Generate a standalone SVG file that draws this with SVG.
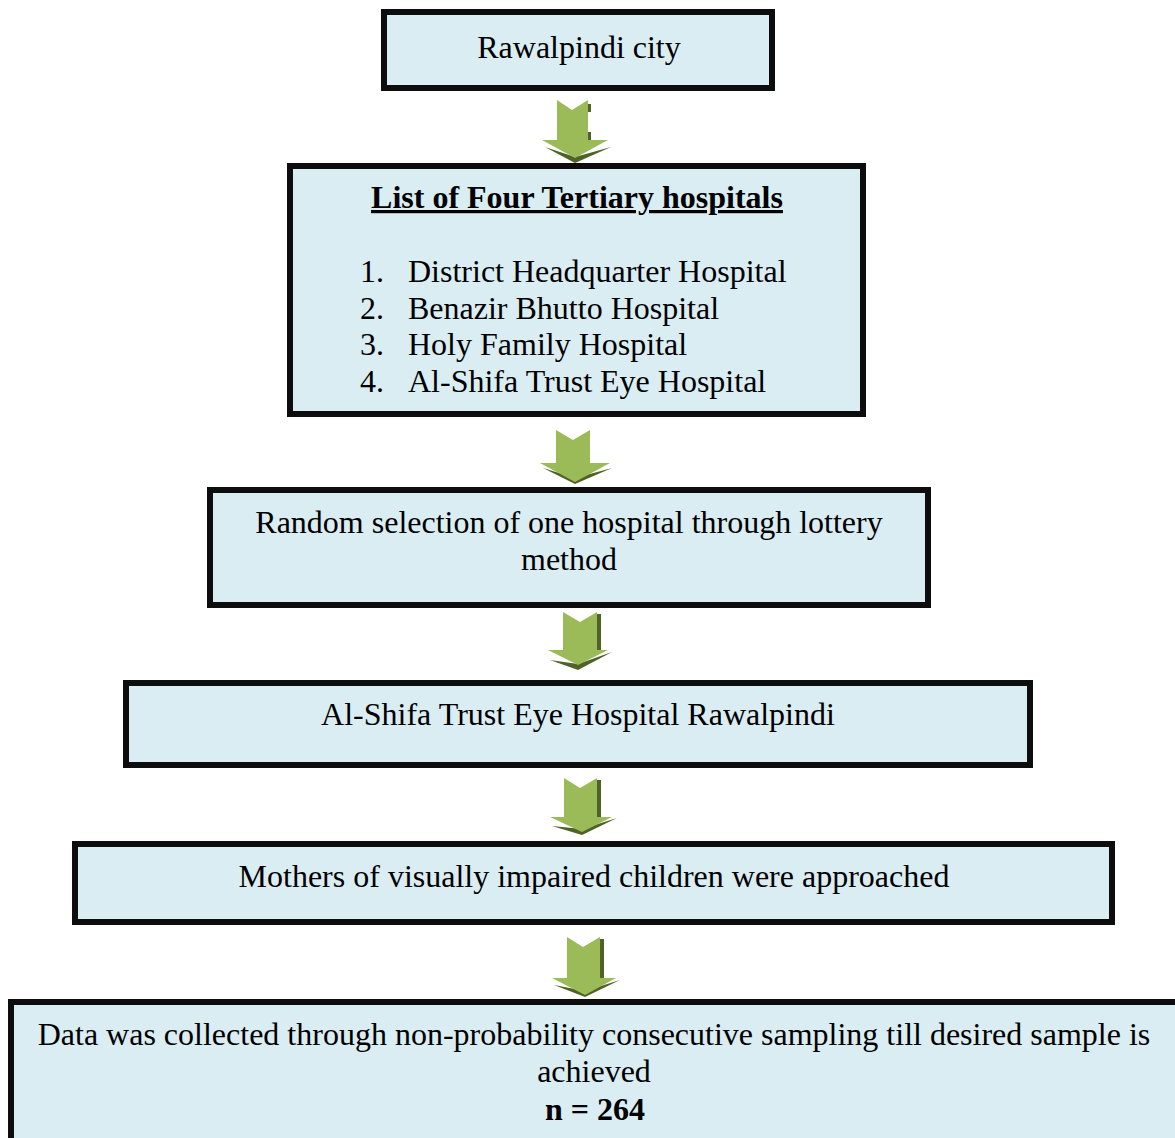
<svg xmlns="http://www.w3.org/2000/svg" width="1175" height="1138" viewBox="0 0 1175 1138">
<style>
.box{fill:#DAEDF3;stroke:#0d0d0d;stroke-width:6}
.t{font-family:"Liberation Serif","Times New Roman",serif;font-size:32px;fill:#000}
.b{font-weight:bold}
.arr{fill:#9BBB59}
.sh{fill:#4F6228}
</style>
<rect width="1175" height="1138" fill="#fff"/>
<g id="connectors">
  <g id="a1">
    <rect class="sh" x="588" y="104" width="3" height="8"/>
    <rect class="sh" x="588" y="132" width="3" height="8"/>
    <polygon class="sh" points="545,147 575,163 611,147 575,157"/>
    <polygon class="arr" points="557,100 572,110 588,100 588,140 608,140 575,158 542,140 557,140"/>
  </g>
  <g id="a2">
    <polygon class="sh" points="543,468 575,484 612,468 575,478"/>
    <polygon class="arr" points="556,430 573,440 590,430 590,463 610,463 575,482 540,463 556,463"/>
  </g>
  <g id="a3">
    <rect class="sh" x="597" y="614" width="4" height="38"/>
    <polygon class="sh" points="550,660 578,670 612,652 578,664"/>
    <polygon class="arr" points="563,612 580,622 597,612 597,650 608,650 578,665 548,650 563,650"/>
  </g>
  <g id="a4">
    <rect class="sh" x="597" y="780" width="4" height="38"/>
    <polygon class="sh" points="552,826 582,835 617,818 582,829"/>
    <polygon class="arr" points="564,778 580,788 597,778 597,817 612,817 582,832 550,817 564,817"/>
  </g>
  <g id="a5">
    <rect class="sh" x="600" y="939" width="4" height="40"/>
    <polygon class="sh" points="554,985 585,997 620,980 585,991"/>
    <polygon class="arr" points="567,937 583,947 600,937 600,978 616,978 585,995 552,978 567,978"/>
  </g>
</g>
<g id="n1">
  <rect class="box" x="384" y="12" width="388" height="76"/>
  <text class="t" x="579" y="58" text-anchor="middle">Rawalpindi city</text>
</g>
<g id="n2">
  <rect class="box" x="290" y="166" width="573" height="248"/>
  <text class="t b" x="577" y="208" text-anchor="middle" text-decoration="underline">List of Four Tertiary hospitals</text>
  <text class="t" x="360" y="282">1.</text><text class="t" x="408" y="282">District Headquarter Hospital</text>
  <text class="t" x="360" y="319">2.</text><text class="t" x="408" y="319">Benazir Bhutto Hospital</text>
  <text class="t" x="360" y="355">3.</text><text class="t" x="408" y="355">Holy Family Hospital</text>
  <text class="t" x="360" y="392">4.</text><text class="t" x="408" y="392">Al-Shifa Trust Eye Hospital</text>
</g>
<g id="n3">
  <rect class="box" x="210" y="490" width="718" height="115"/>
  <text class="t" x="569" y="533" text-anchor="middle">Random selection of one hospital through lottery</text>
  <text class="t" x="569" y="570" text-anchor="middle">method</text>
</g>
<g id="n4">
  <rect class="box" x="126" y="683" width="904" height="82"/>
  <text class="t" x="578" y="725" text-anchor="middle">Al-Shifa Trust Eye Hospital Rawalpindi</text>
</g>
<g id="n5">
  <rect class="box" x="75" y="844" width="1037" height="78"/>
  <text class="t" x="594" y="887" text-anchor="middle">Mothers of visually impaired children were approached</text>
</g>
<g id="n6">
  <rect class="box" x="11" y="1002" width="1170" height="150"/>
  <text class="t" x="594" y="1045" text-anchor="middle">Data was collected through non-probability consecutive sampling till desired sample is</text>
  <text class="t" x="594" y="1082" text-anchor="middle">achieved</text>
  <text class="t b" x="595" y="1120" text-anchor="middle">n = 264</text>
</g>
</svg>
